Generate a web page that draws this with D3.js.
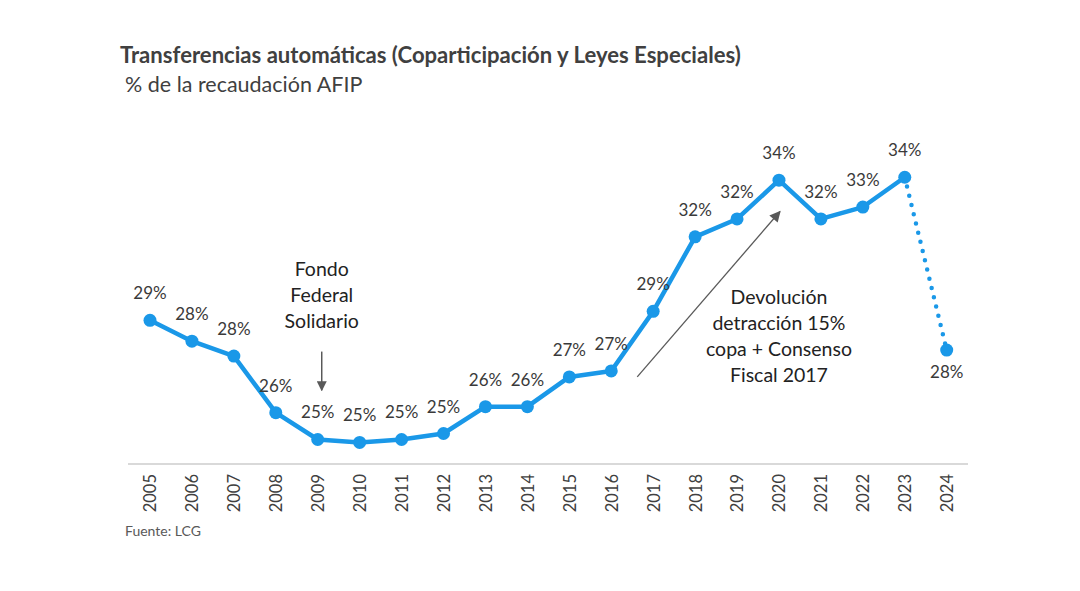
<!DOCTYPE html>
<html>
<head>
<meta charset="utf-8">
<script src="https://cdn.jsdelivr.net/npm/d3@7"></script>
<style>
  html, body { margin: 0; padding: 0; background: #ffffff; }
  svg { display: block; }
</style>
</head>
<body>
<svg id="chart" width="1080" height="591"></svg>
<script>
const years = [2005, 2006, 2007, 2008, 2009, 2010, 2011, 2012, 2013, 2014, 2015, 2016, 2017, 2018, 2019, 2020, 2021, 2022, 2023, 2024];
const values = [28.9, 28.2, 27.7, 25.8, 24.9, 24.8, 24.9, 25.1, 26.0, 26.0, 27.0, 27.2, 29.2, 31.7, 32.3, 33.6, 32.3, 32.7, 33.7, 27.9];
const labels = ["29%", "28%", "28%", "26%", "25%", "25%", "25%", "25%", "26%", "26%", "27%", "27%", "29%", "32%", "32%", "34%", "32%", "33%", "34%", "28%"];
const title = "Transferencias automáticas (Coparticipación y Leyes Especiales)";
const subtitle = "% de la recaudación AFIP";
const source = "Fuente: LCG";
const note1 = ["Fondo", "Federal", "Solidario"];
const note2 = ["Devolución", "detracción 15%", "copa + Consenso", "Fiscal 2017"];

const FONT = "Lato, 'Open Sans', sans-serif";
const BLUE = "#1a98e8";
const TEXT = "#3a3a3a";

const svg = d3.select("#chart");
const x = d3.scaleLinear().domain([2005, 2024]).range([150, 946.7]);
const y = d3.scaleLinear().domain([24, 35]).range([466.3, 138.5]);

// Title & subtitle
svg.append("text").attr("x", 120).attr("y", 63)
  .attr("font-family", FONT).attr("font-weight", "bold").attr("font-size", 22.1)
  .attr("fill", "#404040").text(title);
svg.append("text").attr("x", 125).attr("y", 92)
  .attr("font-family", FONT).attr("font-size", 21.5)
  .attr("fill", "#404040").text(subtitle);

// X axis
const axisG = svg.append("g").attr("transform", "translate(0,464)");
axisG.append("line").attr("x1", 128).attr("x2", 968).attr("y1", 0).attr("y2", 0)
  .attr("stroke", "#d9d9d9").attr("stroke-width", 2);
const xAxis = d3.axisBottom(x).tickValues(years).tickSize(0).tickFormat(d3.format("d"));
const ag = svg.append("g").attr("transform", "translate(0,464)").call(xAxis);
ag.select(".domain").remove();
ag.selectAll("text")
  .attr("font-family", FONT).attr("font-size", 16.5).attr("fill", "#404040")
  .attr("transform", "rotate(-90)")
  .attr("text-anchor", "end")
  .attr("x", -10).attr("y", 0).attr("dy", "0.36em");

// Source
svg.append("text").attr("x", 125).attr("y", 536)
  .attr("font-family", FONT).attr("font-size", 14).attr("fill", "#595959").text(source);

const data = years.map((yr, i) => ({ year: yr, value: values[i], label: labels[i] }));
const line = d3.line().x(d => x(d.year)).y(d => y(d.value));

// Solid line 2005-2023
svg.append("path").datum(data.slice(0, 19))
  .attr("d", line).attr("fill", "none").attr("stroke", BLUE)
  .attr("stroke-width", 4.5).attr("stroke-linejoin", "round");
// Dotted 2023-2024
svg.append("path").datum(data.slice(18))
  .attr("d", line).attr("fill", "none").attr("stroke", BLUE)
  .attr("stroke-width", 4.5).attr("stroke-linecap", "round")
  .attr("stroke-dasharray", "0,9.5");

// Points
svg.selectAll("circle.pt").data(data).join("circle")
  .attr("class", "pt")
  .attr("cx", d => x(d.year)).attr("cy", d => y(d.value))
  .attr("r", 6.5).attr("fill", BLUE);

// Value labels
svg.selectAll("text.lbl").data(data).join("text")
  .attr("class", "lbl")
  .attr("x", d => x(d.year))
  .attr("y", (d, i) => i === data.length - 1 ? y(d.value) + 28 : y(d.value) - 21)
  .attr("text-anchor", "middle")
  .attr("font-family", FONT).attr("font-size", 17).attr("fill", TEXT)
  .text(d => d.label);

// Arrow markers
const defs = svg.append("defs");
defs.append("marker").attr("id", "arr").attr("viewBox", "0 0 10 10")
  .attr("refX", 9).attr("refY", 5).attr("markerWidth", 10).attr("markerHeight", 10)
  .attr("markerUnits", "userSpaceOnUse").attr("orient", "auto")
  .append("path").attr("d", "M0,0 L10,5 L0,10 Z").attr("fill", "#595959");
defs.append("marker").attr("id", "arr2").attr("viewBox", "0 0 10 10")
  .attr("refX", 9).attr("refY", 5).attr("markerWidth", 13).attr("markerHeight", 11)
  .attr("markerUnits", "userSpaceOnUse").attr("orient", "auto")
  .append("path").attr("d", "M0,0 L10,5 L0,10 Z").attr("fill", "#595959");

// Note 1: Fondo Federal Solidario
const n1x = x(2009) + 4;
svg.append("g").selectAll("text").data(note1).join("text")
  .attr("x", n1x).attr("y", (d, i) => 276 + i * 26)
  .attr("text-anchor", "middle").attr("font-family", FONT).attr("font-size", 19.5)
  .attr("fill", "#222").text(d => d);
svg.append("line").attr("x1", n1x).attr("x2", n1x)
  .attr("y1", y(27.85)).attr("y2", y(26.55))
  .attr("stroke", "#595959").attr("stroke-width", 1.5).attr("marker-end", "url(#arr)");

// Note 2: Devolución ...
const n2x = x(2020);
svg.append("g").selectAll("text").data(note2).join("text")
  .attr("x", n2x).attr("y", (d, i) => 304 + i * 26)
  .attr("text-anchor", "middle").attr("font-family", FONT).attr("font-size", 19.5)
  .attr("fill", "#222").text(d => d);
svg.append("line")
  .attr("x1", x(2016) + 26).attr("y1", y(27.0))
  .attr("x2", x(2020) + 1).attr("y2", y(32.55))
  .attr("stroke", "#595959").attr("stroke-width", 1.3).attr("marker-end", "url(#arr2)");
</script>
</body>
</html>
